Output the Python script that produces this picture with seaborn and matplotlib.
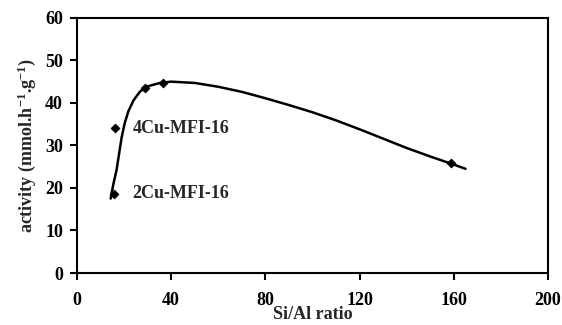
import matplotlib
matplotlib.use("Agg")
import matplotlib.pyplot as plt
import seaborn as sns
import pandas as pd

# measured points
si_al = [15.7, 16.1, 28.9, 36.7, 159]
activity = [18.6, 34.1, 43.5, 44.6, 25.8]

# smoothed trend curve
curve_x = [14.3, 14.7, 15.6, 16.8, 18.0, 19.0, 20.3, 21.8, 24.0, 26.8, 30.0, 35.2, 40, 50, 60, 70, 80, 90, 100, 110, 120, 130, 140, 150, 160, 165]
curve_y = [17.5, 18.8, 21.3, 24.2, 28.5, 32.0, 35.3, 38.0, 40.6, 42.7, 43.9, 44.7, 45.0, 44.7, 43.8, 42.6, 41.1, 39.5, 37.8, 35.9, 33.8, 31.6, 29.4, 27.4, 25.5, 24.5]

labels = ["4Cu-MFI-16", "2Cu-MFI-16"]
label_x = [23.8, 23.6]
label_y = [34.1, 18.8]

x_ticks = [0, 40, 80, 120, 160, 200]
y_ticks = [0, 10, 20, 30, 40, 50, 60]

sns.set_style("ticks")
plt.rcParams["font.family"] = ["Liberation Serif", "DejaVu Serif"]
plt.rcParams["font.weight"] = "bold"
plt.rcParams["mathtext.fontset"] = "custom"
plt.rcParams["mathtext.rm"] = "Liberation Serif:bold"
plt.rcParams["mathtext.it"] = "Liberation Serif:bold"
plt.rcParams["mathtext.bf"] = "Liberation Serif:bold"
plt.rcParams["mathtext.default"] = "rm"

fig = plt.figure(figsize=(5.62, 3.25), dpi=100)
ax = fig.add_axes([0.137, 0.160, 0.838, 0.785])

df_curve = pd.DataFrame({"x": curve_x, "y": curve_y})
df_pts = pd.DataFrame({"x": si_al, "y": activity})

sns.lineplot(data=df_curve, x="x", y="y", ax=ax, color="black", linewidth=1.8, sort=False)
sns.scatterplot(data=df_pts, x="x", y="y", ax=ax, color="black", marker="D", s=22, edgecolor="black", zorder=5)

for t, lx, ly in zip(labels, label_x, label_y):
    ax.text(lx, ly, t, fontsize=13, fontweight="bold", va="center", ha="left")

ax.set_xlim(0, 200)
ax.set_ylim(0, 60)
ax.set_xticks(x_ticks)
ax.set_yticks(y_ticks)
ax.tick_params(axis="both", direction="out", length=5, width=1.5, labelsize=13, colors="black")
ax.tick_params(axis="x", pad=9)
ax.tick_params(axis="y", pad=5)
for lab in ax.get_xticklabels() + ax.get_yticklabels():
    lab.set_fontweight("bold")
for sp in ax.spines.values():
    sp.set_visible(True)
    sp.set_linewidth(1.5)
    sp.set_color("black")

ax.set_xlabel("Si/Al ratio", fontsize=13, fontweight="bold", labelpad=-2.5)
ax.set_ylabel(r"activity (mmol.h$^{-1}$.g$^{-1}$)", fontsize=13, fontweight="bold", labelpad=5)

fig.savefig("out.png", dpi=100)
